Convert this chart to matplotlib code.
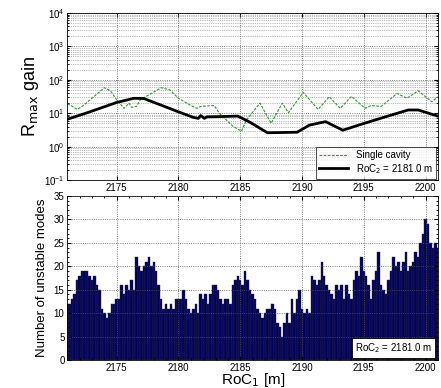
import numpy as np
import matplotlib
matplotlib.use("Agg")
import matplotlib.pyplot as plt
from matplotlib.ticker import LogLocator, NullFormatter, MultipleLocator

plt.rcParams["font.family"] = ["Liberation Sans", "DejaVu Sans"]

# --- top panel: R_max gain vs RoC1 ---
roc_single = [2171.0, 2171.3, 2171.8, 2172.3, 2174.0, 2174.5, 2175.0, 2175.6, 2176.0,
              2176.2, 2176.6, 2176.9, 2178.6, 2179.3, 2180.0, 2181.0, 2181.5, 2181.8,
              2182.9, 2183.3, 2184.4, 2185.1, 2185.5, 2186.6, 2187.5, 2188.4, 2188.9,
              2190.1, 2191.3, 2192.2, 2193.1, 2194.0, 2195.1, 2195.6, 2196.4, 2197.7,
              2198.5, 2199.4, 2200.5, 2201.0]
gain_single = [19, 17, 13, 17, 58, 47, 25, 14, 20, 15, 16, 25, 58, 50, 28, 17, 14, 16,
               17, 10, 4.1, 2.9, 6.3, 20, 5, 20, 10.4, 42, 13, 31, 14, 32, 14, 17, 16,
               39, 28, 47, 22, 31]

roc_pair = [2171.0, 2172.5, 2175.0, 2176.4, 2177.2, 2180.0, 2181.2, 2181.6, 2181.8,
            2182.1, 2182.3, 2183.3, 2184.8, 2185.7, 2187.2, 2189.6, 2190.6, 2191.9,
            2193.3, 2194.9, 2196.8, 2198.6, 2199.4, 2201.0]
gain_pair = [6.6, 10, 21, 28, 27.5, 11, 7.5, 7, 8.5, 7, 7.8, 7.9, 8.2, 5.6, 2.6, 2.7,
             4.4, 5.6, 3.1, 4.8, 7.9, 12.5, 12.5, 8.2]

# --- bottom panel: number of unstable modes, RoC1 step 0.2 m ---
roc1 = np.round(np.arange(2171.0, 2201.01, 0.2), 1)
n_unstable = [
    12, 12, 13, 14, 17, 18, 19, 19, 19, 18, 17, 18, 16, 15, 11, 10, 9, 10, 12, 12,
    13, 13, 16, 14, 16, 15, 17, 15, 22, 20, 19, 20, 21, 22, 20, 21, 19, 16, 13, 11,
    12, 11, 12, 11, 13, 13, 13, 15, 13, 11, 10, 11, 12, 10, 14, 13, 14, 12, 14, 16,
    16, 15, 13, 12, 13, 13, 12, 16, 17, 18, 17, 16, 19, 17, 15, 14, 13, 11, 10, 9,
    10, 11, 11, 12, 11,
    8, 7, 5, 8, 10, 8, 13, 10, 13, 15,
    11, 10, 11, 10, 18, 17, 16, 17, 21, 18,
    16, 15, 14, 13, 16, 15, 16, 13, 16, 14,
    13, 17, 19, 18, 22, 19, 18, 16, 13, 17,
    19, 23, 16, 15, 14, 17, 19, 22, 20, 21,
    19, 21, 23, 19, 20, 21, 23, 22, 25, 27,
    30, 29, 25, 24, 25, 24, 25, 26, 22, 19,
    16, 18, 24, 26, 25,
]
n_unstable = n_unstable[:len(roc1)]
roc1 = roc1[:len(n_unstable)]

xticks = [2175, 2180, 2185, 2190, 2195, 2200]
label_pair = "RoC$_2$ = 2181.0 m"

fig = plt.figure(figsize=(4.41, 3.88), dpi=100)
ax1 = fig.add_axes([0.1526, 0.536, 0.8404, 0.4305])
ax2 = fig.add_axes([0.1526, 0.072, 0.8404, 0.4228])

ax1.semilogy(roc_single, gain_single, "--", color="#2e9a2e", lw=0.8, dashes=(2.5, 1.2),
             label="Single cavity")
ax1.semilogy(roc_pair, gain_pair, "-", color="black", lw=2.0, label=label_pair)
ax1.set_xlim(2171, 2201)
ax1.set_ylim(1e-1, 1e4)
ax1.yaxis.set_major_locator(LogLocator(base=10, numticks=10))
ax1.yaxis.set_minor_locator(LogLocator(base=10, subs=np.arange(2, 10), numticks=10))
ax1.yaxis.set_minor_formatter(NullFormatter())
ax1.set_xticks(xticks)
ax1.grid(True, which="major", ls=":", color="#555555", lw=0.6)
ax1.grid(True, which="minor", axis="y", ls=":", color="#777777", lw=0.5)
ax1.set_ylabel("R$_{\\mathrm{max}}$ gain", fontsize=13, labelpad=2)
leg = ax1.legend(loc="lower right", fontsize=7, frameon=True, fancybox=False,
                 edgecolor="black", borderpad=0.3, handlelength=3, labelspacing=0.2,
                 borderaxespad=0.15)
leg.get_frame().set_linewidth(0.6)

ax2.bar(roc1, n_unstable, width=0.2, color="#00005e", edgecolor="#2a2a40", lw=0.3)
ax2.set_xlim(2171, 2201)
ax2.set_ylim(0, 35)
ax2.set_xticks(xticks)
ax2.yaxis.set_major_locator(MultipleLocator(5))
ax2.yaxis.set_minor_locator(MultipleLocator(1))
ax2.xaxis.set_minor_locator(MultipleLocator(1))
ax2.grid(True, which="major", ls=":", color="#555555", lw=0.6)
ax2.set_axisbelow(False)
ax2.set_ylabel("Number of unstable modes", fontsize=9.5, labelpad=4)
ax2.set_xlabel("RoC$_1$ [m]", fontsize=11, labelpad=-1)
ax2.text(0.985, 0.03, label_pair, transform=ax2.transAxes, ha="right", va="bottom",
         fontsize=7, bbox=dict(boxstyle="square,pad=0.3", fc="white", ec="black", lw=0.6))

for ax in (ax1, ax2):
    ax.tick_params(direction="in", which="both", labelsize=7, top=True, right=True,
                   length=3, pad=2)
    ax.tick_params(which="minor", length=1.5)
    for s in ax.spines.values():
        s.set_linewidth(0.6)

fig.savefig("out.png", dpi=100)
